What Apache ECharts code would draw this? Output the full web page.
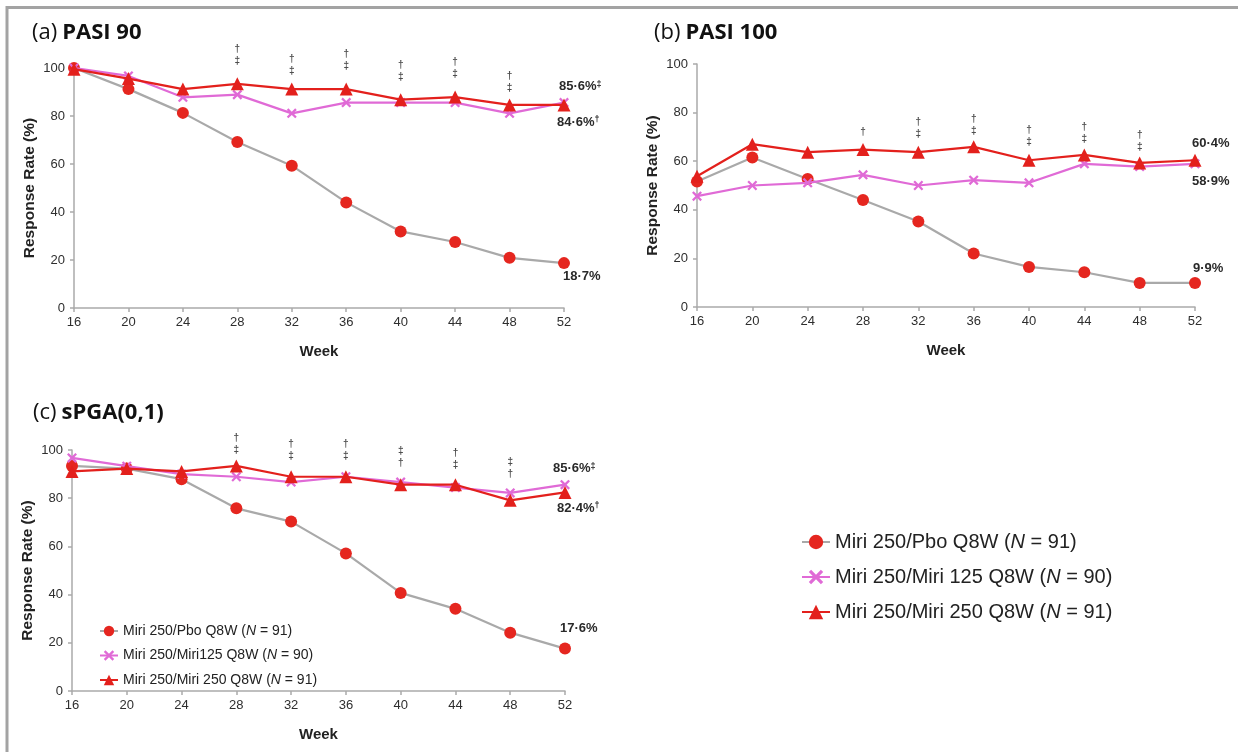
<!DOCTYPE html>
<html><head><meta charset="utf-8">
<script src="https://cdn.jsdelivr.net/npm/echarts@6/dist/echarts.min.js"></script>
<style>html,body{margin:0;padding:0;background:#fff}#c{width:1238px;height:752px}</style>
</head><body><div id="c"></div>
<script>
// ---------- data ----------
const weeks = [16, 20, 24, 28, 32, 36, 40, 44, 48, 52];
const yTicks = [0, 20, 40, 60, 80, 100];
const seriesNames = ['Miri 250/Pbo Q8W', 'Miri 250/Miri 125 Q8W', 'Miri 250/Miri 250 Q8W'];
const legendShortNames = ['Miri 250/Pbo Q8W', 'Miri 250/Miri125 Q8W', 'Miri 250/Miri 250 Q8W'];
const seriesN = [91, 90, 91];
const panelTitles = ['(a)', '(b)', '(c)'];
const panelNames = ['PASI 90', 'PASI 100', 'sPGA(0,1)'];

// (a) PASI 90
const pasi90Pbo     = [100, 91.2, 81.3, 69.2, 59.3, 44.0, 31.9, 27.5, 20.9, 18.7];
const pasi90Miri125 = [100, 96.7, 87.8, 88.9, 81.1, 85.6, 85.6, 85.6, 81.1, 85.6];
const pasi90Miri250 = [99.5, 95.6, 91.2, 93.4, 91.2, 91.2, 86.8, 87.9, 84.6, 84.6];
const pasi90End = ['18·7%', '85·6%{d|‡}', '84·6%{d|†}'];

// (b) PASI 100
const pasi100Pbo     = [51.6, 61.5, 52.7, 44.0, 35.2, 22.0, 16.5, 14.3, 9.9, 9.9];
const pasi100Miri125 = [45.6, 50.0, 51.1, 54.4, 50.0, 52.2, 51.1, 58.9, 57.8, 58.9];
const pasi100Miri250 = [53.8, 67.0, 63.7, 64.8, 63.7, 65.9, 60.4, 62.6, 59.3, 60.4];
const pasi100End = ['9·9%', '58·9%', '60·4%'];

// (c) sPGA(0,1)
const spgaPbo     = [93.4, 92.3, 87.9, 75.8, 70.3, 57.1, 40.7, 34.1, 24.2, 17.6];
const spgaMiri125 = [96.7, 93.3, 90.0, 88.9, 86.7, 88.9, 86.7, 84.4, 82.2, 85.6];
const spgaMiri250 = [91.1, 92.3, 91.1, 93.4, 88.9, 88.9, 85.6, 85.6, 79.1, 82.4];
const spgaEnd = ['17·6%', '85·6%{d|‡}', '82·4%{d|†}'];

// significance annotations (week, level in %, text)
const annoWeeks = [28, 32, 36, 40, 44, 48];
const pasi90AnnoY   = [105.4, 101.0, 103.4, 98.6, 99.8, 94.0];
const pasi90AnnoTxt = ['†\n‡', '†\n‡', '†\n‡', '†\n‡', '†\n‡', '†\n‡'];
const pasi100AnnoY   = [71.8, 73.4, 74.9, 70.4, 71.7, 68.4];
const pasi100AnnoTxt = ['†', '†\n‡', '†\n‡', '†\n‡', '†\n‡', '†\n‡'];
const spgaAnnoY   = [102.3, 100.1, 100.1, 97.1, 96.2, 92.4];
const spgaAnnoTxt = ['†\n‡', '†\n‡', '†\n‡', '‡\n†', '†\n‡', '‡\n†'];

// ---------- styling ----------
const panels = [
  { vals: [pasi90Pbo, pasi90Miri125, pasi90Miri250], end: pasi90End, annoY: pasi90AnnoY, annoTxt: pasi90AnnoTxt,
    grid: { left: 74, top: 68, width: 490, height: 240 }, title: { left: 27, top: 17 },
    endOff: [[-1, 13], [-5, -16], [-7, 17]] },
  { vals: [pasi100Pbo, pasi100Miri125, pasi100Miri250], end: pasi100End, annoY: pasi100AnnoY, annoTxt: pasi100AnnoTxt,
    grid: { left: 697, top: 64, width: 498, height: 243 }, title: { left: 649, top: 17 },
    endOff: [[-2, -15], [-3, 18], [-3, -17]] },
  { vals: [spgaPbo, spgaMiri125, spgaMiri250], end: spgaEnd, annoY: spgaAnnoY, annoTxt: spgaAnnoTxt,
    grid: { left: 72, top: 450, width: 493, height: 241 }, title: { left: 28, top: 397 },
    endOff: [[-5, -20], [-12, -16], [-8, 16]] }
];
const lineColors = ['#a9a9a9', '#e06ad6', '#e3201c'];
const symColors = ['#e5261f', '#e06ad6', '#e3201c'];
const xSymbol = 'path://M0,1.6L1.6,0L5,3.4L8.4,0L10,1.6L6.6,5L10,8.4L8.4,10L5,6.6L1.6,10L0,8.4L3.4,5Z';
const symbols = ['circle', xSymbol, 'triangle'];
const symSizes = [12, 10, 13];
const drawOrder = [1, 2, 0];
const axisColor = '#aaaaaa';
const font = 'Liberation Sans, Arial, sans-serif';

const option = {
  animation: false,
  backgroundColor: '#fff',
  title: panels.map((p, k) => ({
    left: p.title.left, top: p.title.top,
    text: '{a|' + panelTitles[k] + '} {b|' + panelNames[k] + '}',
    textStyle: { rich: {
      a: { fontFamily: 'Open Sans, sans-serif', fontSize: 22, fontWeight: 'normal', color: '#111' },
      b: { fontFamily: 'Open Sans, sans-serif', fontSize: 22, fontWeight: 'bold', color: '#111' }
    } }
  })),
  grid: panels.map(p => Object.assign({ containLabel: false }, p.grid)),
  xAxis: panels.map((p, k) => ({
    type: 'value', gridIndex: k, min: weeks[0], max: weeks[weeks.length - 1], interval: 4,
    axisLine: { show: true, onZero: false, lineStyle: { color: axisColor, width: 1.5 } },
    axisTick: { show: true, length: 4, lineStyle: { color: axisColor, width: 1.5 } },
    splitLine: { show: false },
    axisLabel: { color: '#2e2e2e', fontSize: 13, fontFamily: font, margin: 8 },
    name: 'Week', nameLocation: 'middle', nameGap: 36,
    nameTextStyle: { fontFamily: font, fontSize: 15, fontWeight: 'bold', color: '#222' }
  })),
  yAxis: panels.map((p, k) => ({
    type: 'value', gridIndex: k, min: yTicks[0], max: yTicks[yTicks.length - 1], interval: 20,
    axisLine: { show: true, lineStyle: { color: axisColor, width: 1.5 } },
    axisTick: { show: true, length: 4, lineStyle: { color: axisColor, width: 1.5 } },
    splitLine: { show: false },
    axisLabel: { color: '#2e2e2e', fontSize: 13, fontFamily: font, margin: 9 },
    name: 'Response Rate (%)', nameLocation: 'middle', nameGap: 36, nameRotate: 90,
    nameTextStyle: { fontFamily: font, fontSize: 15.5, fontWeight: 'bold', color: '#222' }
  })),
  legend: [
    {
      data: seriesNames, orient: 'vertical', left: 796, top: 527,
      itemWidth: 28, itemHeight: 18, itemGap: 15, selectedMode: false,
      formatter: name => name + ' ({i|N} = ' + seriesN[seriesNames.indexOf(name)] + ')',
      textStyle: { fontFamily: font, fontSize: 20, color: '#222',
        rich: { i: { fontFamily: font, fontSize: 20, fontStyle: 'italic', color: '#222' } } }
    },
    {
      data: seriesNames, orient: 'vertical', left: 94, top: 619,
      itemWidth: 18, itemHeight: 13, itemGap: 10.5, selectedMode: false,
      formatter: name => {
        const i = seriesNames.indexOf(name);
        return legendShortNames[i] + ' ({i|N} = ' + seriesN[i] + ')';
      },
      textStyle: { fontFamily: font, fontSize: 14, color: '#222',
        rich: { i: { fontFamily: font, fontSize: 14, fontStyle: 'italic', color: '#222' } } }
    }
  ],
  series: []
};

panels.forEach((p, k) => {
  drawOrder.forEach(s => {
    const vals = p.vals[s];
    option.series.push({
      type: 'line', name: seriesNames[s], xAxisIndex: k, yAxisIndex: k,
      symbol: symbols[s], symbolSize: symSizes[s], showAllSymbol: true,
      lineStyle: { color: lineColors[s], width: 2.2 },
      itemStyle: { color: symColors[s], borderWidth: 0 },
      emphasis: { disabled: true },
      z: 2 + s,
      data: weeks.map((w, i) => {
        const item = { value: [w, vals[i]] };
        if (i === weeks.length - 1) {
          item.label = {
            show: true, position: 'inside', align: 'left', verticalAlign: 'middle',
            offset: p.endOff[s], formatter: p.end[s],
            fontFamily: font, fontSize: 13, fontWeight: 'bold', color: '#2a2a2a',
            rich: { d: { fontFamily: font, fontSize: 9, fontWeight: 'bold', color: '#2a2a2a', verticalAlign: 'top', padding: [0, 0, 5, 0] } }
          };
        }
        return item;
      })
    });
  });
  option.series.push({
    type: 'scatter', xAxisIndex: k, yAxisIndex: k, clip: false, silent: true,
    symbolSize: 1, itemStyle: { color: 'rgba(0,0,0,0)' }, z: 10,
    label: {
      show: true, position: 'inside', formatter: q => p.annoTxt[q.dataIndex],
      fontFamily: font, fontSize: 10, fontWeight: 'bold', lineHeight: 12, color: '#222'
    },
    data: annoWeeks.map((w, i) => [w, p.annoY[i]])
  });
});

option.graphic = [
  { type: 'line', shape: { x1: 6, y1: 7.5, x2: 1238, y2: 7.5 }, style: { stroke: '#a3a3a3', lineWidth: 3 }, silent: true },
  { type: 'line', shape: { x1: 7, y1: 6, x2: 7, y2: 752 }, style: { stroke: '#a3a3a3', lineWidth: 3 }, silent: true }
];

const chart = echarts.init(document.getElementById('c'), null, { renderer: 'canvas' });
chart.setOption(option);
</script>
</body></html>
